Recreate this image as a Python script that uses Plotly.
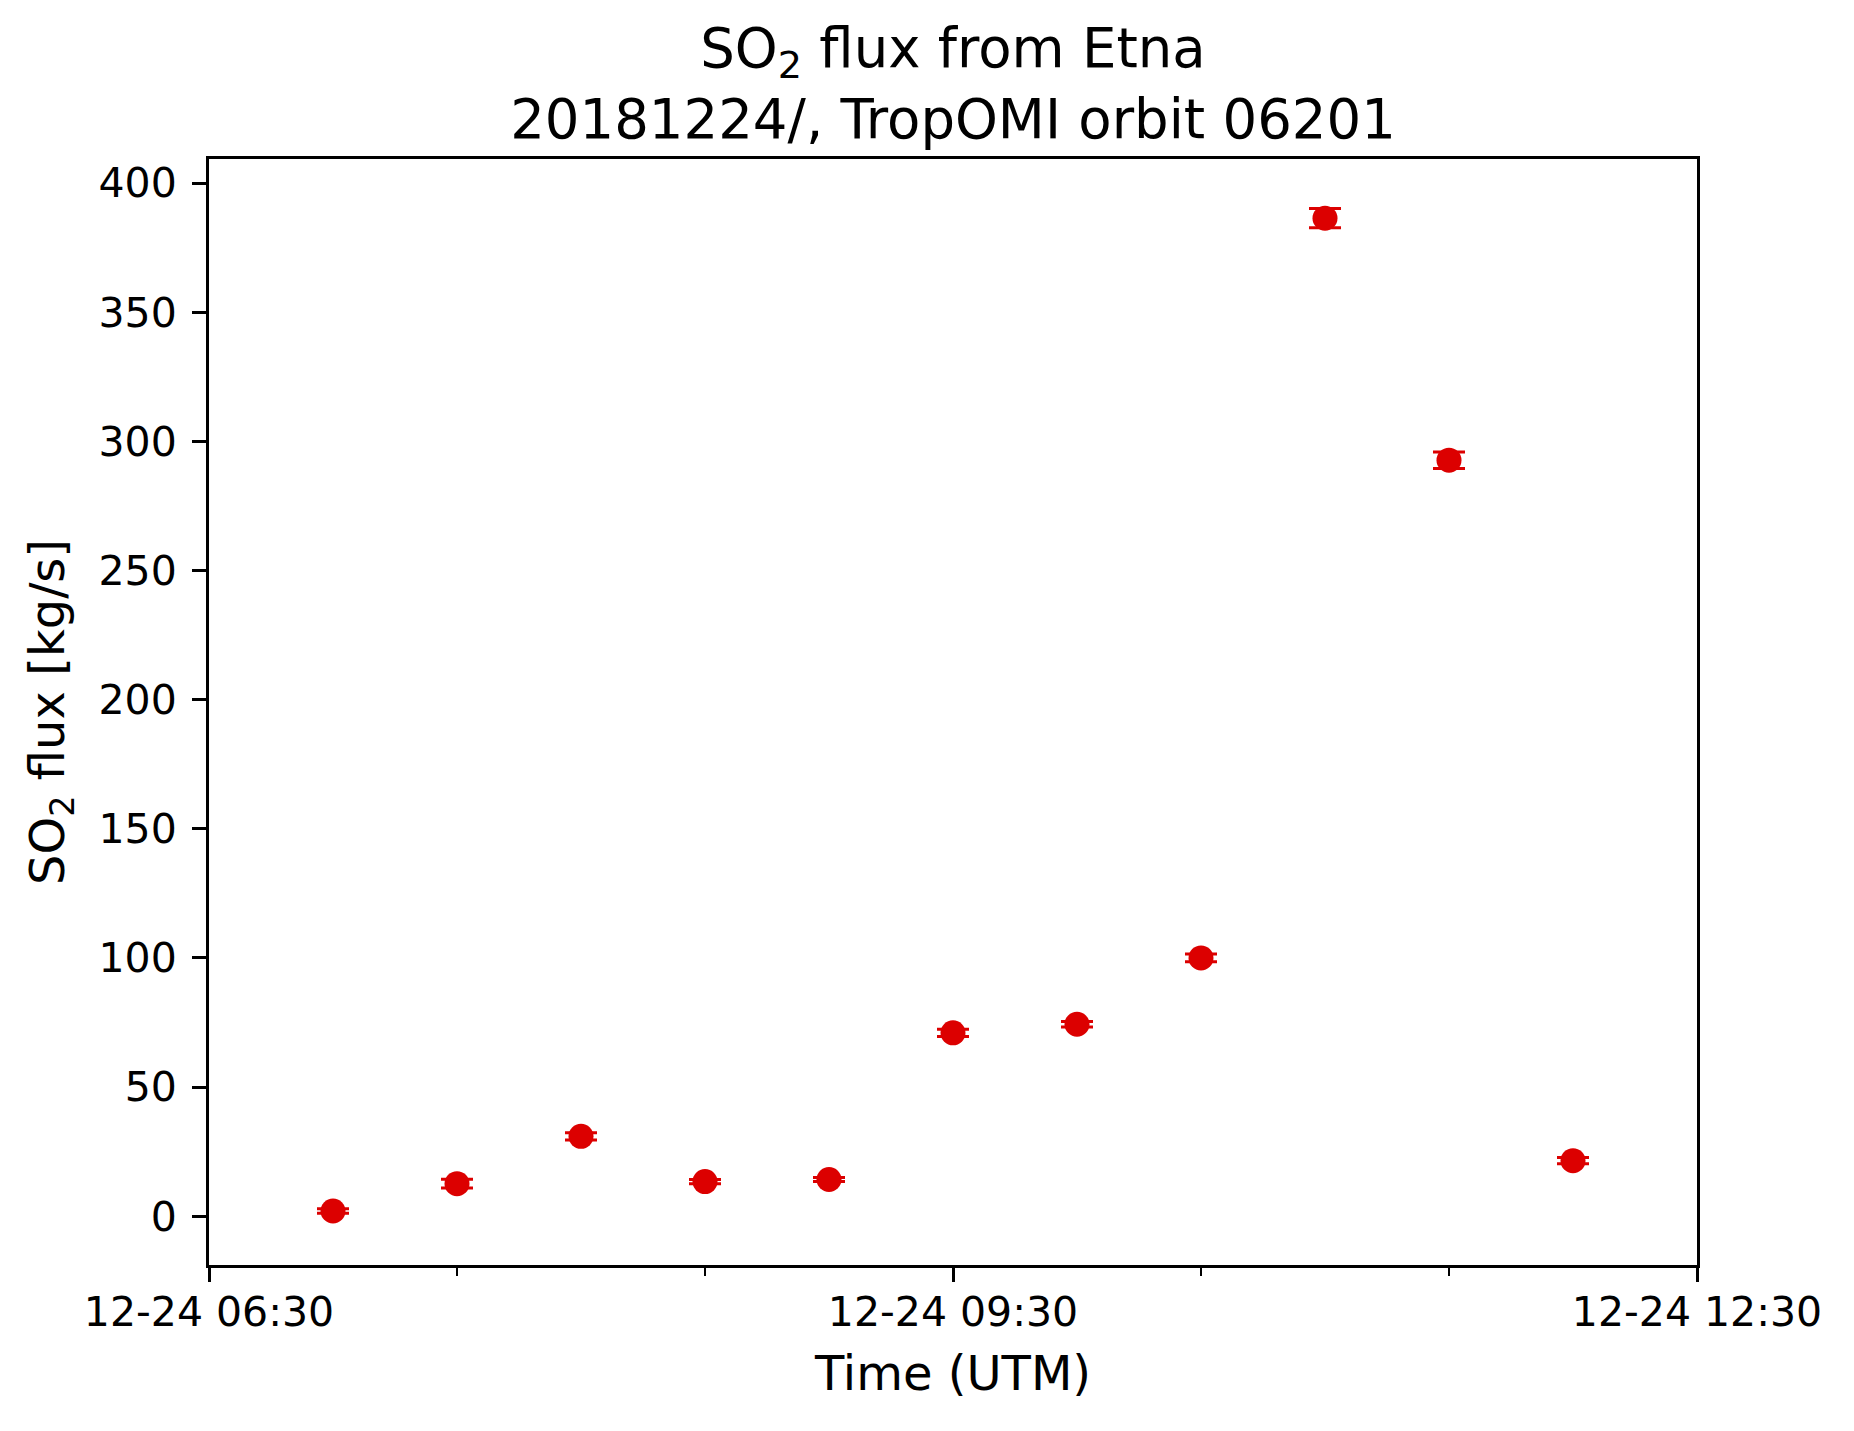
import plotly.graph_objects as go

# Data
times = [
    "2018-12-24 07:00", "2018-12-24 07:30", "2018-12-24 08:00", "2018-12-24 08:30",
    "2018-12-24 09:00", "2018-12-24 09:30", "2018-12-24 10:00", "2018-12-24 10:30",
    "2018-12-24 11:00", "2018-12-24 11:30", "2018-12-24 12:00",
]
flux = [2.0, 12.6, 30.9, 13.4, 14.2, 71.0, 74.3, 100.0, 386.4, 292.7, 21.5]
flux_err = [0.9, 1.7, 1.4, 0.8, 0.8, 1.4, 1.1, 1.5, 3.7, 3.2, 1.2]

title_text = "SO<sub>2</sub> flux from Etna<br>20181224/, TropOMI orbit 06201"
x_label = "Time (UTM)"
y_label = "SO<sub>2</sub> flux [kg/s]"
x_range = ["2018-12-24 06:30", "2018-12-24 12:30"]
y_range = [-18.9, 409.3]

RED = "#dc0000"
FONT = "DejaVu Sans"

fig = go.Figure()
fig.add_trace(go.Scatter(
    x=times, y=flux, mode="markers",
    marker=dict(color=RED, size=25, line=dict(width=0)),
    error_y=dict(type="data", array=flux_err, visible=True,
                 color=RED, thickness=3, width=16),
    showlegend=False,
))

fig.update_layout(
    width=1854, height=1431,
    paper_bgcolor="white", plot_bgcolor="white",
    margin=dict(l=201, r=165, t=151, b=174),
    font=dict(family=FONT, color="black", size=41),
    title=dict(text=title_text, x=0.5, xref="paper", xanchor="center",
               y=1 - 59 / 1431, yref="container", yanchor="top",
               font=dict(family=FONT, size=54.5, color="black")),
)

fig.update_xaxes(
    type="date", range=x_range,
    tick0="2018-12-24 06:30", dtick=3 * 3600000,
    tickformat="%m-%d %H:%M",
    ticks="outside", ticklen=14, tickwidth=3, tickcolor="black",
    ticklabelstandoff=-5,
    minor=dict(dtick=3600000, tick0="2018-12-24 06:30", ticks="outside",
               ticklen=8, tickwidth=2, tickcolor="black", showgrid=False),
    showline=True, linewidth=3, linecolor="black", mirror=True,
    showgrid=False, zeroline=False,
    tickfont=dict(family=FONT, size=41, color="black"),
    title=dict(text=x_label, font=dict(family=FONT, size=48, color="black"), standoff=22),
)
fig.update_yaxes(
    range=y_range, tick0=0, dtick=50,
    ticks="outside", ticklen=14, tickwidth=3, tickcolor="black",
    ticklabelstandoff=7,
    showline=True, linewidth=3, linecolor="black", mirror=True,
    showgrid=False, zeroline=False,
    tickfont=dict(family=FONT, size=41, color="black"),
    title=dict(text=y_label, font=dict(family=FONT, size=48, color="black"), standoff=19),
)

fig.write_html("out.html")
